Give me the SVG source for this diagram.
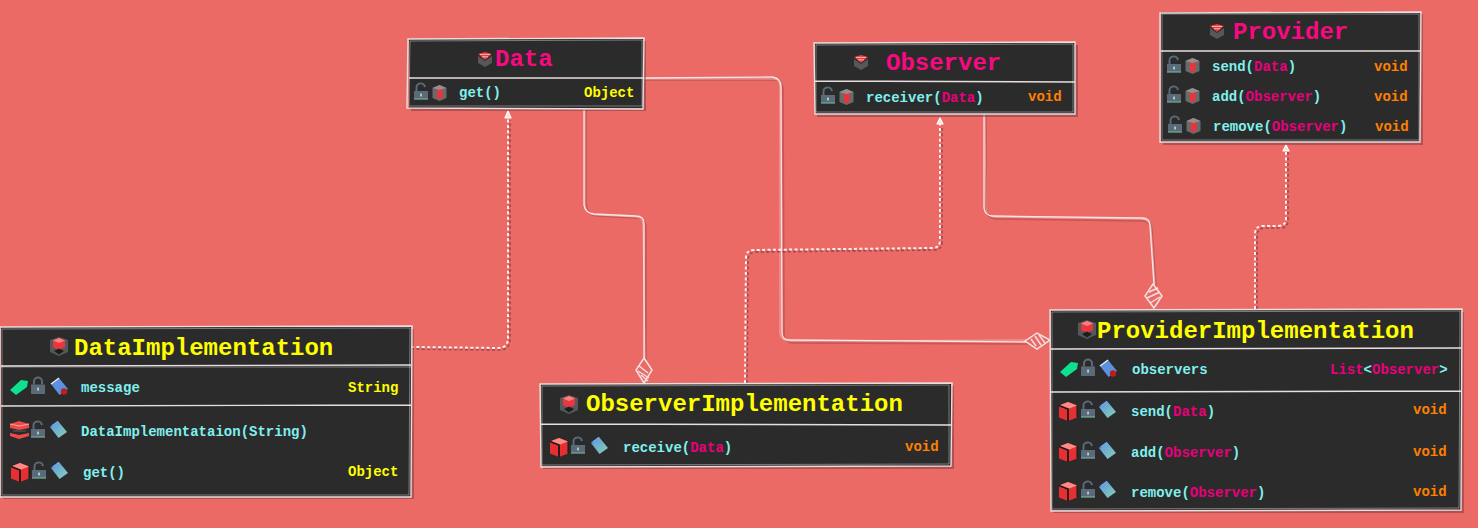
<svg xmlns="http://www.w3.org/2000/svg" width="1478" height="528" viewBox="0 0 1478 528">
<style>
text{font-family:"Liberation Mono","DejaVu Sans Mono",monospace;font-weight:700;white-space:pre}
.t{font-size:24px}
.ty{fill:#ffff00}.tp{fill:#f70a80}
.m{font-size:14px;fill:#80f0ee}
.p{fill:#e8007c}.y{fill:#ffff00}.o{fill:#ff8000}
.box{fill:#2b2b2b}
.sh{fill:#6a3238;opacity:.45}
.edge{fill:none;stroke:#e9dede;stroke-width:1.4}
.edge2{fill:none;stroke:#fff;stroke-width:.7;opacity:.55}
.line{fill:none;stroke:#f5e6e6;stroke-width:1.3;stroke-linejoin:round}
.line2{fill:none;stroke:#fff;stroke-width:.7;opacity:.6;stroke-linejoin:round}
.shl{fill:none;stroke:#9c4448;stroke-width:1.6;opacity:.5}
.dash{fill:none;stroke:#fff0ee;stroke-width:2;stroke-dasharray:3 2.4}
.dashs{fill:none;stroke:#8a3d45;stroke-width:1.6;stroke-dasharray:3 2.4;opacity:.8}
.dia{fill:#ec6a66;stroke:#f2e4e4;stroke-width:1.5}
.hat{stroke:#f2e4e4;stroke-width:1.4}
.ar{fill:#f7dede;stroke:#fff;stroke-width:1.2;stroke-linejoin:round}
</style>
<defs>
<linearGradient id="ng" x1="0" y1="0" x2="1" y2="1"><stop offset="0" stop-color="#5e96e4"/><stop offset="1" stop-color="#88d0b4"/></linearGradient>
<symbol id="lockO" viewBox="0 0 14 17" width="14" height="17" overflow="visible"><path d="M2.5 8V5a4.2 4.2 0 0 1 8.4-.8" fill="none" stroke="#5a6a78" stroke-width="2"/><rect x="0" y="8" width="14" height="8" fill="#5a6a78"/><rect x="0" y="15.4" width="14" height="1.2" fill="#74ac9c"/><rect x="6.4" y="10.6" width="1.3" height="2.8" fill="#cfe"/></symbol>
<symbol id="lockC" viewBox="0 0 14 17" width="14" height="17" overflow="visible"><path d="M3 7.5V4.5a4 4 0 0 1 8 0V7.5" fill="none" stroke="#5a6a78" stroke-width="2"/><rect x="0" y="7.5" width="14" height="9.5" fill="#5a6a78"/><rect x="6.4" y="10.6" width="1.3" height="3" fill="#cfe"/></symbol>
<symbol id="cube" viewBox="0 0 20 20" width="20" height="20" overflow="visible"><path d="M10 0L19 3.5V15.5L10 19L1 15.5V3.5Z" fill="#e52f33"/><path d="M1 3.5L10 7L19 3.5L10 0Z" fill="#ff8a84"/><path d="M1 3.5L10 7V19" fill="none" stroke="#191919" stroke-width="1.8"/><path d="M19 3.5V15.5" stroke="#191919" stroke-width="1"/></symbol>
<symbol id="cubeS" viewBox="0 0 15 16" width="15" height="16" overflow="visible"><path d="M7.5 0L14.5 3V13L7.5 16L.5 13V3Z" fill="#6a6a6c"/><path d="M5 5L10.5 4V13L5 14Z" fill="#e8343a"/><path d="M.5 3L7.5 0L14.5 3L7.5 5Z" fill="#9a8c8c"/></symbol>
<symbol id="cubeG" viewBox="0 0 20 20" width="20" height="20" overflow="visible"><path d="M10 0L19 3V15L10 19L1 15V3Z" fill="#55575a"/><path d="M4 3.5L10 1L16 3.5V10L10 13L4 10Z" fill="#e8383f"/><path d="M4 3.5L10 6L16 3.5L10 1Z" fill="#ff7f7f"/><path d="M5 14L10 11.5L15 14L10 17.5Z" fill="#1c1c1c"/></symbol>
<symbol id="cubeT" viewBox="0 0 16 15" width="16" height="15" overflow="visible"><path d="M1 4L8 9L15 4V11L8 15L1 11Z" fill="#55575a"/><path d="M1 2L8 0L15 2L8 8Z" fill="#e63a3f"/><path d="M3 2.4H13M5 4.8H11" stroke="#ffc8c8" stroke-width=".9"/></symbol>
<symbol id="ctor" viewBox="0 0 20 18" width="20" height="18" overflow="visible"><path d="M0 3L9 0L19 3V7L9 9L0 7Z" fill="#ee4a4a"/><path d="M0 3L9 5L19 3" fill="none" stroke="#ffa0a0" stroke-width="1"/><path d="M3 9H16V11H3Z" fill="#444"/><path d="M0 12L9 14L19 12V15L9 18L0 15Z" fill="#ee4a4a"/></symbol>
<symbol id="tag" viewBox="0 0 18 16" width="18" height="16" overflow="visible"><path d="M0 11L11 1L18 2L17 8L6 16Z" fill="#0fe08f"/></symbol>
<symbol id="note" viewBox="0 0 17 17" width="17" height="17" overflow="visible"><path d="M8 0L17 11L8.5 17L0 6Z" fill="url(#ng)"/><path d="M0 6L8 0" stroke="#2460c0" stroke-width="1.4"/><path d="M1.5 5L8 .4" stroke="#e8f0f0" stroke-width=".6"/></symbol>
<symbol id="noteR" viewBox="0 0 17 17" width="17" height="17" overflow="visible"><path d="M8 0L17 11L8.5 17L0 6Z" fill="#5c90e0"/><path d="M0 6L8 0" stroke="#e8f0f0" stroke-width="1.4"/><circle cx="13" cy="13.5" r="3.2" fill="#b8201c"/></symbol>
</defs>

<rect width="1478" height="528" fill="#ec6a66"/>

<g id="connectors">
<path class="shl" d="M645 80L773 80Q783 80 783 90L784 334Q784 343 794 343L1028 344"/>
<path class="shl" d="M586 110L586 204Q587 215 597 216L636 218Q646 218 646 228L646 360"/>
<path class="shl" d="M986 115L986 208Q987 219 997 219L1142 221Q1152 221 1152 231L1156 286"/>
<path class="line" d="M643 78L772 77Q781 78 781 87L782 333Q782 340 790 340L1026 342"/>
<path class="line2" d="M643 79L773 79Q780 79 780 87L780 334Q781 341 790 341L1026 340"/>
<path class="line" d="M584 108L584 205Q585 213 594 214L636 216Q644 216 644 224L644 358"/>
<path class="line2" d="M585 108L585 205Q586 214 595 215L636 217Q643 218 643 225L645 358"/>
<path class="line" d="M984 113L984 208Q985 216 993 216L1142 218Q1150 218 1150 226L1154 285"/>
<path class="line2" d="M985 113L986 208Q987 217 994 217L1142 219Q1149 220 1151 227L1155 285"/>
<path class="dashs" d="M411 349L499 350Q510 350 510 339L510 120"/>
<path class="dashs" d="M747 383L748 260Q748 252 756 252L934 250Q942 250 942 242L942 126"/>
<path class="dashs" d="M1257 309L1257 236Q1257 228 1265 228L1280 228Q1288 228 1288 220L1288 152"/>
<path class="dash" d="M411 347L498 348Q508 348 508 338L508 118"/>
<path class="dash" d="M745 383L746 258Q746 250 754 250L932 248Q940 248 940 240L940 124"/>
<path class="dash" d="M1255 309L1255 234Q1255 226 1263 226L1278 226Q1286 226 1286 218L1286 150"/>
<path class="ar" d="M508 111L511 118H505Z"/>
<path class="ar" d="M940 118L943 124H937Z"/>
<path class="ar" d="M1286 145L1289 151H1283Z"/>
<path class="dia" d="M644 358L652 370L644 383L636 370Z"/>
<path class="hat" d="M639 366L648 373M638 371L649 378M641 375L648 381"/>
<path class="dia" d="M1153 284L1162 296L1154 308L1145 296Z"/>
<path class="hat" d="M1149 292L1158 288M1147 298L1160 292M1150 303L1160 297"/>
<path class="dia" d="M1025 341L1037 333L1050 340L1037 349Z"/>
<path class="hat" d="M1031 339L1036 346M1035 336L1041 345M1039 335L1045 343"/>
</g>

<g id="node-data">
<rect class="sh" x="411" y="41" width="235" height="70"/>
<rect class="box" x="409" y="39" width="234" height="69"/>
<path class="edge" d="M408 39L644 38L643 109L407 108ZM409 78L643 78"/>
<path class="edge2" d="M410 41L642 40L642 106L409 106Z"/>
<use href="#cubeT" x="477" y="52"/>
<text class="t tp" x="495" y="66">Data</text>
<use href="#lockO" x="414" y="83"/><use href="#cubeS" x="432" y="85"/>
<text class="m" x="459" y="97">get()</text>
<text class="m y" x="584" y="97">Object</text>
</g>

<g id="node-observer">
<rect class="sh" x="817" y="45" width="261" height="72"/>
<rect class="box" x="815" y="43" width="260" height="71"/>
<path class="edge" d="M814 43L1075 42L1075 114L815 114ZM815 81L1075 82"/>
<path class="edge2" d="M816 45L1073 44L1073 112L816 112Z"/>
<use href="#cubeT" x="853" y="55"/>
<text class="t tp" x="886" y="70">Observer</text>
<use href="#lockO" x="821" y="87"/><use href="#cubeS" x="839" y="89"/>
<text class="m" x="866" y="102">receiver(<tspan class="p">Data</tspan>)</text>
<text class="m o" x="1028" y="101">void</text>
</g>

<g id="node-provider">
<rect class="sh" x="1163" y="14" width="260" height="131"/>
<rect class="box" x="1161" y="12" width="259" height="130"/>
<path class="edge" d="M1160 13L1421 12L1420 142L1160 142ZM1161 51L1420 51"/>
<path class="edge2" d="M1162 14L1419 14L1419 140L1162 140Z"/>
<use href="#cubeT" x="1209" y="24"/>
<text class="t tp" x="1233" y="39">Provider</text>
<use href="#lockO" x="1167" y="56"/><use href="#cubeS" x="1185" y="58"/>
<text class="m" x="1212" y="71">send(<tspan class="p">Data</tspan>)</text><text class="m o" x="1374" y="71">void</text>
<use href="#lockO" x="1167" y="86"/><use href="#cubeS" x="1185" y="88"/>
<text class="m" x="1212" y="101">add(<tspan class="p">Observer</tspan>)</text><text class="m o" x="1374" y="101">void</text>
<use href="#lockO" x="1168" y="116"/><use href="#cubeS" x="1186" y="118"/>
<text class="m" x="1213" y="131">remove(<tspan class="p">Observer</tspan>)</text><text class="m o" x="1375" y="131">void</text>
</g>

<g id="node-data-implementation">
<rect class="sh" x="3" y="329" width="411" height="170"/>
<rect class="box" x="1" y="327" width="410" height="170"/>
<path class="edge" d="M0 327L412 326L411 497L0 497ZM1 366L411 365M1 406L411 405"/>
<path class="edge2" d="M2 329L410 328L409 495L2 495ZM1 367L411 367"/>
<use href="#cubeG" x="49" y="337"/>
<text class="t ty" x="74" y="355">DataImplementation</text>
<use href="#tag" x="10" y="379"/><use href="#lockC" x="31" y="377"/><use href="#noteR" x="51" y="378"/>
<text class="m" x="81" y="392">message</text><text class="m y" x="348" y="392">String</text>
<use href="#ctor" x="10" y="421"/><use href="#lockO" x="31" y="421"/><use href="#note" x="50" y="421"/>
<text class="m" x="81" y="436">DataImplementataion(String)</text>
<use href="#cube" x="10" y="463"/><use href="#lockO" x="32" y="462"/><use href="#note" x="51" y="462"/>
<text class="m" x="83" y="477">get()</text><text class="m y" x="348" y="476">Object</text>
</g>

<g id="node-observer-implementation">
<rect class="sh" x="543" y="386" width="411" height="83"/>
<rect class="box" x="541" y="384" width="410" height="82"/>
<path class="edge" d="M540 384L952 383L951 466L541 467ZM541 424L951 425"/>
<path class="edge2" d="M542 386L949 385L949 464L542 465Z"/>
<use href="#cubeG" x="559" y="395"/>
<text class="t ty" x="586" y="411">ObserverImplementation</text>
<use href="#cube" x="549" y="438"/><use href="#lockO" x="571" y="437"/><use href="#note" x="591" y="437"/>
<text class="m" x="623" y="452">receive(<tspan class="p">Data</tspan>)</text><text class="m o" x="905" y="451">void</text>
</g>

<g id="node-provider-implementation">
<rect class="sh" x="1053" y="312" width="411" height="201"/>
<rect class="box" x="1051" y="310" width="410" height="200"/>
<path class="edge" d="M1050 310L1462 309L1461 510L1051 511ZM1051 349L1461 348M1051 392L1461 391"/>
<path class="edge2" d="M1052 312L1460 311L1459 508L1052 509Z"/>
<use href="#cubeG" x="1077" y="320"/>
<text class="t ty" x="1097" y="338">ProviderImplementation</text>
<use href="#tag" x="1060" y="361"/><use href="#lockC" x="1081" y="359"/><use href="#noteR" x="1100" y="360"/>
<text class="m" x="1132" y="374">observers</text><text class="m" x="1330" y="374"><tspan class="p">List</tspan>&lt;<tspan class="p">Observer</tspan>&gt;</text>
<use href="#cube" x="1058" y="402"/><use href="#lockO" x="1081" y="401"/><use href="#note" x="1099" y="401"/>
<text class="m" x="1131" y="416">send(<tspan class="p">Data</tspan>)</text><text class="m o" x="1413" y="414">void</text>
<use href="#cube" x="1058" y="443"/><use href="#lockO" x="1081" y="442"/><use href="#note" x="1099" y="442"/>
<text class="m" x="1131" y="457">add(<tspan class="p">Observer</tspan>)</text><text class="m o" x="1413" y="456">void</text>
<use href="#cube" x="1058" y="482"/><use href="#lockO" x="1081" y="481"/><use href="#note" x="1099" y="481"/>
<text class="m" x="1131" y="497">remove(<tspan class="p">Observer</tspan>)</text><text class="m o" x="1413" y="496">void</text>
</g>
</svg>
